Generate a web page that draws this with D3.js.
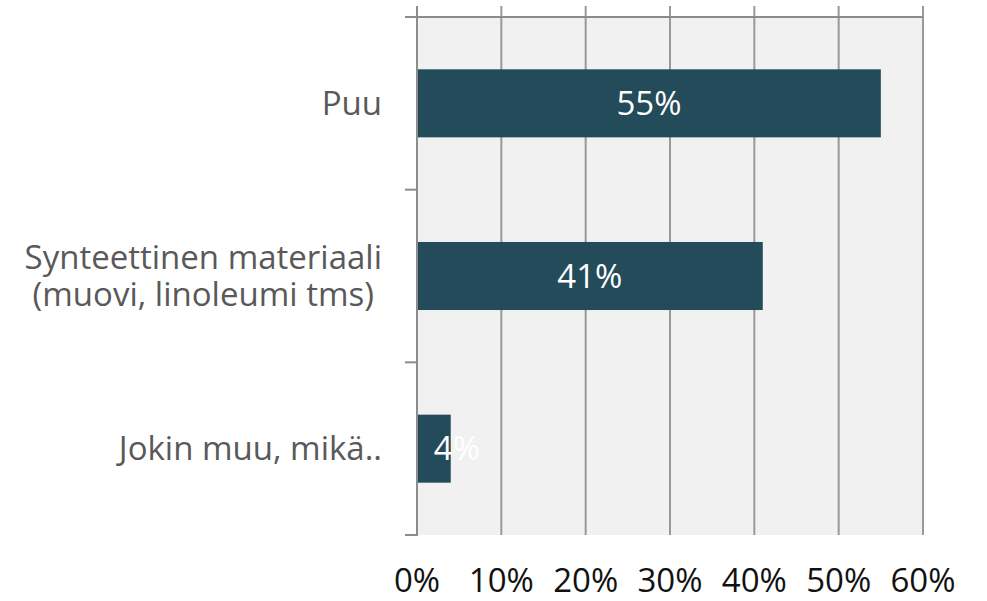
<!DOCTYPE html>
<html><head><meta charset="utf-8">
<script src="https://cdn.jsdelivr.net/npm/d3@7"></script>
<style>body{margin:0;background:#fff}svg{display:block}</style>
</head><body><div id="chart"></div>
<script>
const categories = [["Puu"], ["Synteettinen materiaali", "(muovi, linoleumi tms)"], ["Jokin muu, mikä.."]];
const values = [55, 41, 4];
const tickValues = [0, 10, 20, 30, 40, 50, 60];
const tickLabels = ["0%", "10%", "20%", "30%", "40%", "50%", "60%"];

const W = 987, H = 601;
const pL = 417, pR = 923, pT = 17, pB = 535;
const FONT = "'Open Sans', Lato, sans-serif";
const FS = 33;

const svg = d3.select("#chart").append("svg").attr("width", W).attr("height", H);
const x = d3.scaleLinear().domain([0, 60]).range([pL, pR]);
const y = d3.scaleBand().domain(d3.range(categories.length)).range([pT, pB]).paddingInner(0.606).paddingOuter(0.303);
const yb = d3.scaleBand().domain(d3.range(categories.length)).range([pT, pB]);

svg.append("rect").attr("x", pL).attr("y", pT).attr("width", pR - pL).attr("height", pB - pT).attr("fill", "#f1f1f1");

// vertical gridlines
svg.append("g").selectAll("line").data(tickValues.slice(1)).join("line")
  .attr("x1", d => x(d)).attr("x2", d => x(d)).attr("y1", 6).attr("y2", pB)
  .attr("stroke", "#999").attr("stroke-width", 2);

// top line
svg.append("line").attr("x1", 405).attr("x2", pR).attr("y1", pT).attr("y2", pT).attr("stroke", "#8c8c8c").attr("stroke-width", 2);

// left axis
svg.append("line").attr("x1", pL).attr("x2", pL).attr("y1", 6).attr("y2", pB + 1).attr("stroke", "#8c8c8c").attr("stroke-width", 2);
const bounds = [yb(1), yb(2), pB];
svg.append("g").selectAll("line").data(bounds).join("line")
  .attr("x1", 405).attr("x2", pL).attr("y1", d => d).attr("y2", d => d)
  .attr("stroke", "#8c8c8c").attr("stroke-width", 2);

// bars
svg.append("g").selectAll("rect").data(values).join("rect")
  .attr("x", x(0) + 1).attr("y", (d, i) => y(i)).attr("width", d => x(d) - x(0) - 1).attr("height", y.bandwidth())
  .attr("fill", "#234b5a");

// bar labels
svg.append("g").selectAll("text").data(values).join("text")
  .attr("y", (d, i) => y(i) + y.bandwidth() / 2)
  .attr("dy", "0.35em")
  .attr("font-family", FONT).attr("font-size", FS).attr("fill", "#fff")
  .text(d => d + "%")
  .each(function(d) {
    const t = d3.select(this);
    const w = this.getComputedTextLength();
    const bw = x(d) - x(0);
    if (w < bw) t.attr("text-anchor", "middle").attr("x", (x(0) + x(d)) / 2);
    else t.attr("text-anchor", "start").attr("x", (x(0) + x(d)) / 2);
  });

// category labels (block right-aligned at 382, lines centred within block)
const labelRight = 382;
const cl = svg.append("g").selectAll("text").data(categories).join("text")
  .attr("text-anchor", "middle").attr("font-family", FONT).attr("font-size", FS).attr("fill", "#595959");
cl.each(function(lines, i) {
  const t = d3.select(this);
  const lh = 37;
  const spans = lines.map((s, k) => t.append("tspan")
    .attr("y", y(i) + y.bandwidth() / 2 + (k - (lines.length - 1) / 2) * lh)
    .attr("dy", "0.35em").text(s));
  const maxW = d3.max(spans, sp => sp.node().getComputedTextLength());
  spans.forEach(sp => sp.attr("x", labelRight - maxW / 2));
});

// x tick labels
svg.append("g").selectAll("text").data(tickValues).join("text")
  .attr("x", d => x(d)).attr("y", 592).attr("text-anchor", "middle")
  .attr("font-family", FONT).attr("font-size", FS).attr("fill", "#111")
  .text((d, i) => tickLabels[i]);
</script></body></html>
